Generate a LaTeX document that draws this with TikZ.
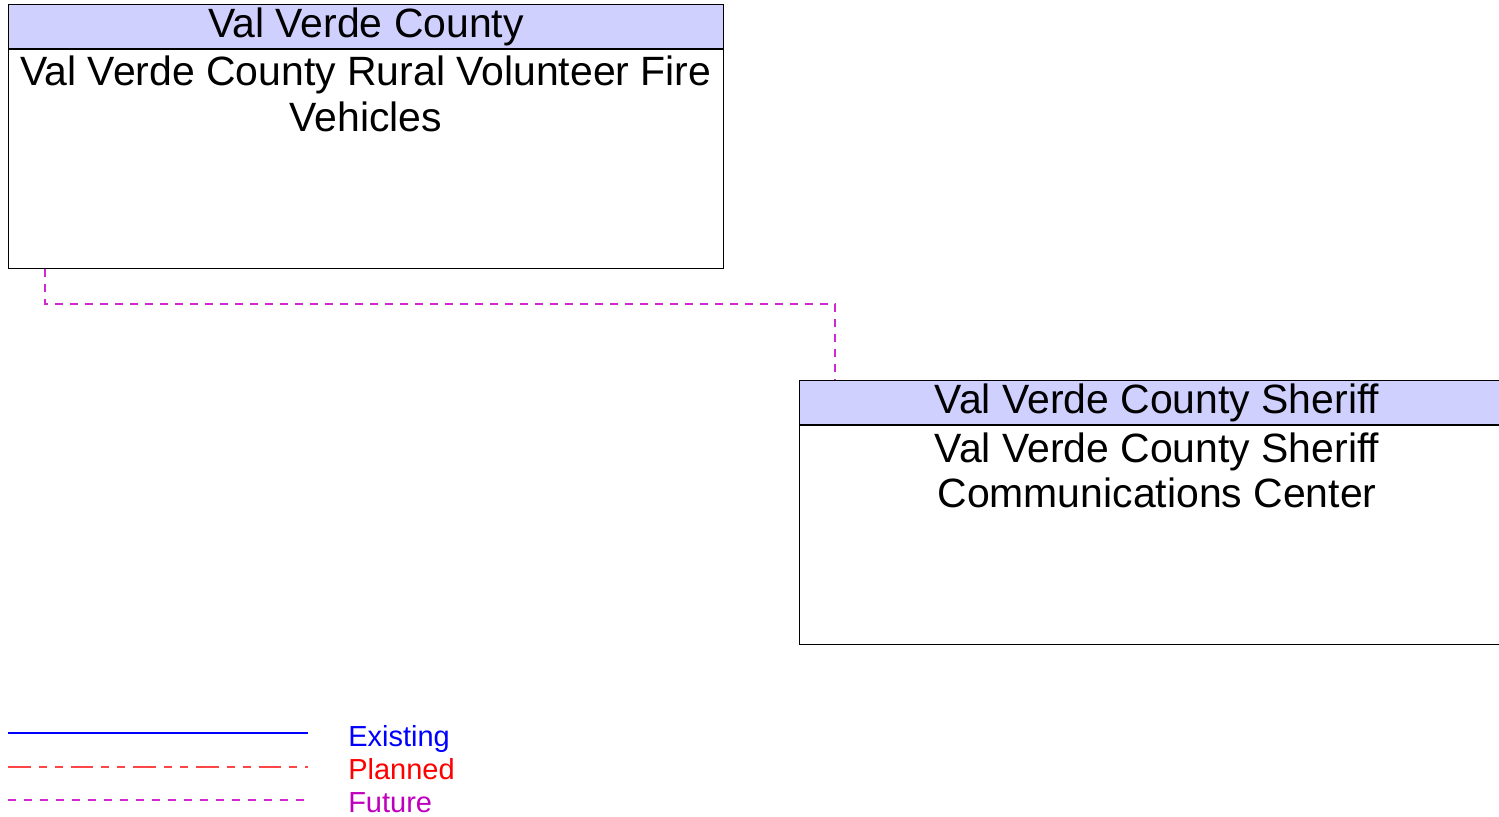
\documentclass[tikz,border=0pt]{standalone}
\usepackage{fontspec}
\setmainfont{Liberation Sans}
\usepackage{xcolor}
\usetikzlibrary{positioning}
\definecolor{headfill}{RGB}{208,208,255}
\definecolor{futurec}{RGB}{210,40,210}
\definecolor{futuretext}{RGB}{190,0,190}
\definecolor{plannedc}{RGB}{255,70,70}

\begin{document}
\begin{tikzpicture}[x=0.75pt, y=-0.75pt,
  font=\fontsize{30.7}{33.75}\selectfont,
  head/.style={draw=black, fill=headfill, line width=0.75pt, minimum width=536.25pt, minimum height=33pt, inner sep=0pt, anchor=north west},
  body/.style={draw=black, fill=white, line width=0.75pt, minimum width=536.25pt, minimum height=164.25pt, inner sep=0pt, anchor=north west},
  bodytext/.style={align=center, inner sep=0pt, anchor=base},
  future/.style={draw=futurec, line width=1pt, dash pattern=on 6pt off 5.25pt},
  existing/.style={draw=blue, line width=1.6pt},
  planned/.style={draw=plannedc, line width=1.2pt, dash pattern=on 17pt off 6pt on 6pt off 6pt on 6pt off 6pt},
  legline/.style={draw=futurec, line width=1pt, dash pattern=on 6pt off 6pt},
  leglabel/.style={font=\fontsize{21.75}{24}\selectfont, anchor=base west, inner sep=0pt}]
\useasboundingbox (0,0) rectangle (1499,817);
\clip (0,0) rectangle (1499,817);
% rural fire vehicles
\node[head] (fireHead) at (8,4) {Val Verde County};
\node[body] (fire) at (fireHead.south west) {};
\node[bodytext] (fireText) at ([yshift=-61.5pt]fireHead.south) {Val Verde County Rural Volunteer Fire\\Vehicles};
% sheriff communications center
\node[head] (sheriffHead) at (799,380) {Val Verde County Sheriff};
\node[body] (sheriff) at (sheriffHead.south west) {};
\node[bodytext] (sheriffText) at ([yshift=-61.5pt]sheriffHead.south) {Val Verde County Sheriff\\Communications Center};
% flow
\draw[future] ([xshift=27.75pt]fire.south west) -- ++(0,35) -| ([xshift=27pt]sheriffHead.north west);
% legend
\coordinate (exA) at (8,733);
\coordinate (plA) at (8,767);
\coordinate (fuA) at (8,800);
\draw[existing] (exA) -- ++(300,0);
\draw[planned] (plA) -- ++(300,0);
\draw[legline] (fuA) -- ++(300,0);
\node[leglabel, text=blue] (exLab) at (348,746) {Existing};
\node[leglabel, text=red] (plLab) at (348,779) {Planned};
\node[leglabel, text=futuretext] (fuLab) at (348,812) {Future};
\end{tikzpicture}
\end{document}
